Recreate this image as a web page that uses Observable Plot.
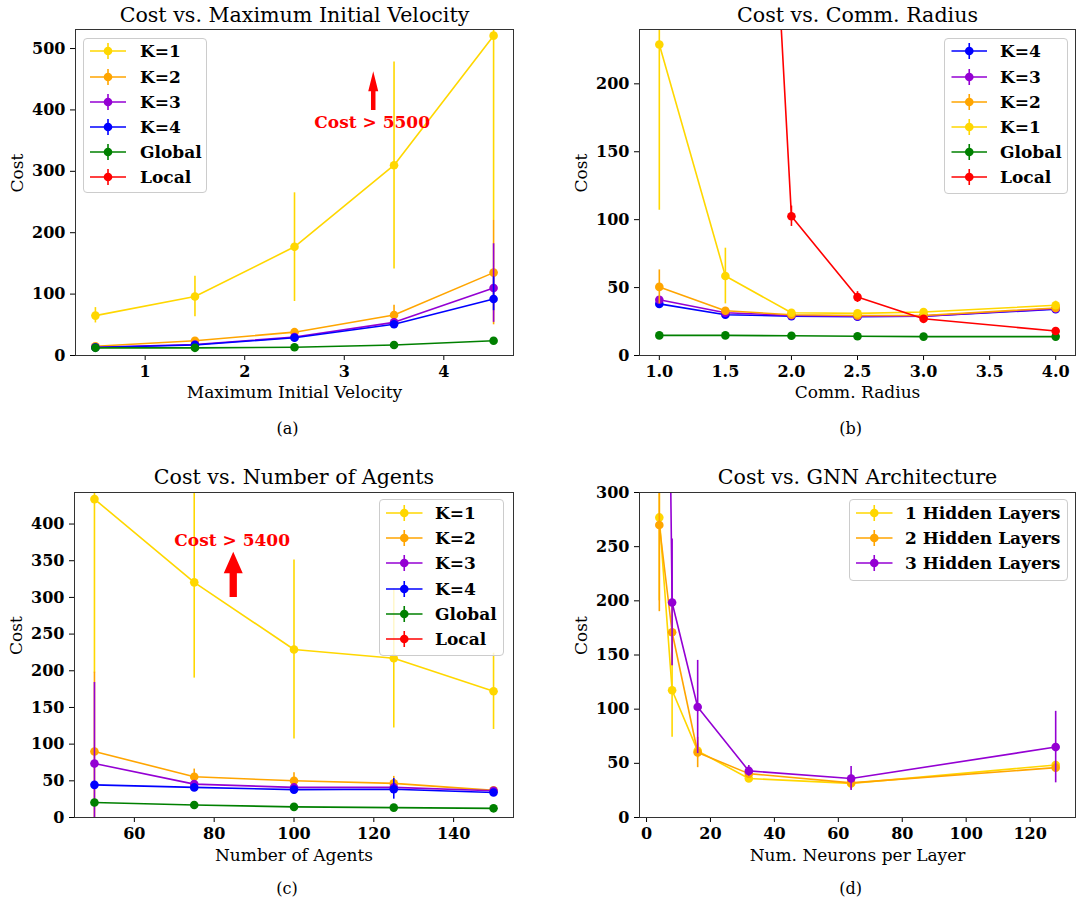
<!DOCTYPE html>
<html>
<head>
<meta charset="utf-8">
<script src="https://cdn.jsdelivr.net/npm/d3@7"></script>
<script src="https://cdn.jsdelivr.net/npm/@observablehq/plot@0.6"></script>
<style>
  body { margin: 0; background: #fff; }
  #root { position: relative; width: 1078px; height: 903px; overflow: hidden; font-family: "DejaVu Serif", serif; }
  .panel { position: absolute; }
  .legend { position: absolute; background: rgba(255,255,255,0.8); border: 1px solid #cccccc; border-radius: 4px; box-sizing: border-box; }
  .row { position: absolute; left: 0; height: 24px; width: 100%; }
  .row svg { position: absolute; left: 0; top: 0; }
  .row span { position: absolute; top: 0; line-height: 24px; font-weight: bold; font-size: 17px; color: #000; white-space: nowrap; }
</style>
</head>
<body>
<div id="root"></div>
<script>
// ---------- Panel (a): Cost vs. Maximum Initial Velocity ----------
const velX = [0.5, 1.5, 2.5, 3.5, 4.5];
const velK1 = [65, 96, 177, 310, 521];
const velK1Lo = [53, 63, 88, 141, 220];
const velK1Hi = [78, 129, 265, 478, 830];
const velK2 = [15, 24, 38, 66, 135];
const velK2Lo = [13, 21, 34, 50, 50];
const velK2Hi = [17, 27, 42, 82, 220];
const velK3 = [13.5, 18, 30, 54, 110];
const velK3Lo = [12, 16, 27, 48, 54];
const velK3Hi = [15, 20, 33, 60, 182];
const velK4 = [13, 17, 29, 51, 92];
const velK4Lo = [12, 15.5, 27, 46, 73];
const velK4Hi = [14, 18.5, 31, 56, 128];
const velGlobal = [12.5, 12.5, 13.5, 17, 24];
const velGlobalLo = [11.5, 11.5, 12.5, 16, 23];
const velGlobalHi = [13.5, 13.5, 14.5, 18, 25];
const velTicksX = [1, 2, 3, 4];
const velTicksY = [0, 100, 200, 300, 400, 500];

// ---------- Panel (b): Cost vs. Comm. Radius ----------
const radX = [1.0, 1.5, 2.0, 2.5, 3.0, 4.0];
const radK4 = [38, 30, 29, 28.5, 29, 34];
const radK4Lo = [36.5, 28.5, 27.5, 27, 27.5, 32.5];
const radK4Hi = [39.5, 31.5, 30.5, 30, 30.5, 35.5];
const radK3 = [41, 31.5, 29.5, 29, 29, 34.5];
const radK3Lo = [39.5, 30, 28, 27.5, 27.5, 33];
const radK3Hi = [42.5, 33, 31, 30.5, 30.5, 36];
const radK2 = [50.5, 33, 30, 29.5, 29.5, 35];
const radK2Lo = [38, 31, 28.5, 28, 28, 33];
const radK2Hi = [63, 35, 31.5, 31, 31, 37];
const radK1 = [229, 58.5, 31.5, 31, 32, 37];
const radK1Lo = [107, 38, 30, 29.5, 30, 34];
const radK1Hi = [351, 79, 33, 32.5, 34, 40];
const radGlobal = [14.8, 14.8, 14.5, 14.2, 13.9, 13.9];
const radGlobalLo = [14.3, 14.3, 14, 13.7, 13.4, 13.4];
const radGlobalHi = [15.3, 15.3, 15, 14.7, 14.4, 14.4];
const radLocal = [3000, 1000, 102.5, 43, 27, 18];
const radLocalLo = [2500, 900, 95, 39, 25, 16.5];
const radLocalHi = [3500, 1100, 110, 47, 29, 19.5];
const radTicksX = [1.0, 1.5, 2.0, 2.5, 3.0, 3.5, 4.0];
const radTicksY = [0, 50, 100, 150, 200];

// ---------- Panel (c): Cost vs. Number of Agents ----------
const agX = [50, 75, 100, 125, 150];
const agK1 = [434, 320.5, 229, 217, 172];
const agK1Lo = [197, 190, 107, 122, 120];
const agK1Hi = [671, 451, 351, 312, 224];
const agK2 = [90, 55.5, 50, 46.5, 37];
const agK2Lo = [-18, 45, 39, 37, 34];
const agK2Hi = [198, 66, 61, 56, 40];
const agK3 = [73.5, 45.5, 41, 41, 36.5];
const agK3Lo = [-37, 42, 38, 38, 34];
const agK3Hi = [184, 49, 44, 44, 39];
const agK4 = [44.5, 41, 38, 38.5, 34];
const agK4Lo = [41, 39, 36, 25, 32];
const agK4Hi = [48, 43, 40, 53, 36];
const agGlobal = [20.5, 17, 14.5, 13.5, 12.5];
const agGlobalLo = [19.5, 16, 13.5, 12.5, 11.5];
const agGlobalHi = [21.5, 18, 15.5, 14.5, 13.5];
const agTicksX = [60, 80, 100, 120, 140];
const agTicksY = [0, 50, 100, 150, 200, 250, 300, 350, 400];

// ---------- Panel (d): Cost vs. GNN Architecture ----------
const nnX = [4, 8, 16, 32, 64, 128];
const nnH1 = [277, 117.5, 61.5, 36, 31.5, 48.5];
const nnH1Lo = [200, 74, 55, 33, 29, 45];
const nnH1Hi = [354, 160, 68, 39, 34, 52];
const nnH2 = [270, 171, 60, 40.5, 32, 46];
const nnH2Lo = [190, 140, 46, 38, 26, 42];
const nnH2Hi = [350, 202, 74, 43, 38, 50];
const nnH3 = [1200, 198.5, 102, 43, 36, 65];
const nnH3Lo = [1100, 140, 59, 38, 25, 32];
const nnH3Hi = [1300, 257, 145, 48, 47, 98];
const nnTicksX = [0, 20, 40, 60, 80, 100, 120];
const nnTicksY = [0, 50, 100, 150, 200, 250, 300];

const C = {K1: "#FFD700", K2: "#FFA500", K3: "#9400D3", K4: "#0000FF", Global: "#008000", Local: "#FF0000"};
const FONT = "DejaVu Serif";

function rows(xs, ys, lo, hi) {
  return ys.map((y, i) => ({x: xs[i], y, lo: lo[i], hi: hi[i]}));
}

function fatArrow(ax, y0, y1, shaftW, headW, headL) {
  return (index, scales) => {
    const X = scales.x(ax), Y0 = scales.y(y0), Y1 = scales.y(y1);
    const hb = Y1 + headL;
    const p = document.createElementNS("http://www.w3.org/2000/svg", "path");
    p.setAttribute("d", `M${X - shaftW / 2},${Y0}L${X - shaftW / 2},${hb}L${X - headW / 2},${hb}L${X},${Y1}L${X + headW / 2},${hb}L${X + shaftW / 2},${hb}L${X + shaftW / 2},${Y0}Z`);
    p.setAttribute("fill", "#FF0000");
    return p;
  };
}

function panel(cfg) {
  const marks = [];
  for (const s of cfg.series) {
    const data = rows(cfg.xs, s.ys, s.lo, s.hi);
    marks.push(Plot.ruleX(data, {x: "x", y1: "lo", y2: "hi", stroke: s.color, strokeWidth: 1.6, clip: true}));
    marks.push(Plot.line(data, {x: "x", y: "y", stroke: s.color, strokeWidth: 1.6, clip: true}));
    marks.push(Plot.dot(data, {x: "x", y: "y", r: 4.3, fill: s.color, stroke: "none", clip: true}));
  }
  if (cfg.note) {
    marks.push(fatArrow(cfg.note.ax, cfg.note.y0, cfg.note.y1, cfg.note.shaftW, cfg.note.headW, cfg.note.headL));
    marks.push(Plot.text([cfg.note.text], {x: () => cfg.note.tx, y: () => cfg.note.ty, fill: "#FF0000", fontWeight: "bold", fontSize: 17, lineAnchor: "middle"}));
  }
  marks.push(Plot.frame({stroke: "#333", strokeWidth: 1}));
  marks.push(Plot.text([cfg.title], {frameAnchor: "top", dy: cfg.titleDy, fontSize: 20.6, fontWeight: "normal", lineAnchor: "middle"}));
  marks.push(Plot.text([cfg.xlabel], {frameAnchor: "bottom", dy: cfg.xlabelDy, fontSize: 17, fontWeight: "normal", lineAnchor: "middle"}));
  marks.push(Plot.text(["Cost"], {frameAnchor: "left", dx: -58, rotate: -90, fontSize: 17, fontWeight: "normal", lineAnchor: "middle"}));
  marks.push(Plot.text([cfg.caption], {frameAnchor: "bottom", dx: -7, dy: cfg.captionDy, fontSize: 16, fontWeight: "normal", lineAnchor: "middle"}));

  const svg = Plot.plot({
    width: cfg.width, height: cfg.height,
    marginLeft: cfg.m[0], marginRight: cfg.m[1], marginTop: cfg.m[2], marginBottom: cfg.m[3],
    style: {fontFamily: FONT, fontSize: "16px", fontWeight: "bold", color: "#000", background: "transparent", overflow: "visible"},
    x: {domain: cfg.xDomain, ticks: cfg.xTicks, tickFormat: cfg.xFormat, tickSize: 5, tickPadding: 5, label: null},
    y: {domain: cfg.yDomain, ticks: cfg.yTicks, tickFormat: d3.format("d"), tickSize: 5, tickPadding: 5, label: null},
    marks
  });
  const div = document.createElement("div");
  div.className = "panel";
  div.style.left = cfg.left + "px";
  div.style.top = cfg.top + "px";
  div.appendChild(svg);
  document.getElementById("root").appendChild(div);
}

function legend(box, entries) {
  const el = document.createElement("div");
  el.className = "legend";
  Object.assign(el.style, {left: box.left + "px", top: box.top + "px", width: box.w + "px", height: box.h + "px"});
  entries.forEach((e, i) => {
    const r = document.createElement("div");
    r.className = "row";
    r.style.top = (box.first + i * box.step - 12 - 1) + "px";
    const cx = (box.h0 + box.h1) / 2;
    r.innerHTML = `<svg width="${box.h1 + 4}" height="24">
      <line x1="${box.h0}" x2="${box.h1}" y1="12" y2="12" stroke="${e.color}" stroke-width="1.6"/>
      <line x1="${cx}" x2="${cx}" y1="4" y2="20" stroke="${e.color}" stroke-width="1.6"/>
      <circle cx="${cx}" cy="12" r="4.3" fill="${e.color}"/></svg><span style="left:${box.text}px">${e.label}</span>`;
    el.appendChild(r);
  });
  document.getElementById("root").appendChild(el);
}

// (a)
panel({
  left: 0, top: 0, width: 539, height: 451, m: [75, 26, 29, 96],
  xs: velX, xDomain: [0.3, 4.7], yDomain: [0, 531], xTicks: velTicksX, yTicks: velTicksY, xFormat: d3.format("d"),
  series: [
    {ys: velK1, lo: velK1Lo, hi: velK1Hi, color: C.K1},
    {ys: velK2, lo: velK2Lo, hi: velK2Hi, color: C.K2},
    {ys: velK3, lo: velK3Lo, hi: velK3Hi, color: C.K3},
    {ys: velK4, lo: velK4Lo, hi: velK4Hi, color: C.K4},
    {ys: velGlobal, lo: velGlobalLo, hi: velGlobalHi, color: C.Global}
  ],
  note: {text: "Cost > 5500", tx: 3.28, ty: 380, ax: 3.296, y0: 399, y1: 462, shaftW: 4.5, headW: 10, headL: 20},
  title: "Cost vs. Maximum Initial Velocity", titleDy: -14.5,
  xlabel: "Maximum Initial Velocity", xlabelDy: 37, caption: "(a)", captionDy: 73
});

// (b)
panel({
  left: 539, top: 0, width: 539, height: 451, m: [100, 3, 29, 96],
  xs: radX, xDomain: [0.85, 4.15], yDomain: [0, 240], xTicks: radTicksX, yTicks: radTicksY, xFormat: d3.format(".1f"),
  series: [
    {ys: radK4, lo: radK4Lo, hi: radK4Hi, color: C.K4},
    {ys: radK3, lo: radK3Lo, hi: radK3Hi, color: C.K3},
    {ys: radK2, lo: radK2Lo, hi: radK2Hi, color: C.K2},
    {ys: radK1, lo: radK1Lo, hi: radK1Hi, color: C.K1},
    {ys: radGlobal, lo: radGlobalLo, hi: radGlobalHi, color: C.Global},
    {ys: radLocal, lo: radLocalLo, hi: radLocalHi, color: C.Local}
  ],
  title: "Cost vs. Comm. Radius", titleDy: -14.5,
  xlabel: "Comm. Radius", xlabelDy: 37, caption: "(b)", captionDy: 73
});

// (c)
panel({
  left: 0, top: 451, width: 539, height: 452, m: [74, 26, 41, 86],
  xs: agX, xDomain: [45, 155], yDomain: [0, 443], xTicks: agTicksX, yTicks: agTicksY, xFormat: d3.format("d"),
  series: [
    {ys: agK1, lo: agK1Lo, hi: agK1Hi, color: C.K1},
    {ys: agK2, lo: agK2Lo, hi: agK2Hi, color: C.K2},
    {ys: agK3, lo: agK3Lo, hi: agK3Hi, color: C.K3},
    {ys: agK4, lo: agK4Lo, hi: agK4Hi, color: C.K4},
    {ys: agGlobal, lo: agGlobalLo, hi: agGlobalHi, color: C.Global}
  ],
  note: {text: "Cost > 5400", tx: 84.5, ty: 378, ax: 84.9, y0: 300, y1: 361.5, shaftW: 7.3, headW: 19, headL: 21.5},
  title: "Cost vs. Number of Agents", titleDy: -15,
  xlabel: "Number of Agents", xlabelDy: 38, caption: "(c)", captionDy: 71
});

// (d)
panel({
  left: 539, top: 451, width: 539, height: 452, m: [100, 3, 41, 86],
  xs: nnX, xDomain: [-2.2, 134.2], yDomain: [0, 300], xTicks: nnTicksX, yTicks: nnTicksY, xFormat: d3.format("d"),
  series: [
    {ys: nnH1, lo: nnH1Lo, hi: nnH1Hi, color: C.K1},
    {ys: nnH2, lo: nnH2Lo, hi: nnH2Hi, color: C.K2},
    {ys: nnH3, lo: nnH3Lo, hi: nnH3Hi, color: C.K3}
  ],
  title: "Cost vs. GNN Architecture", titleDy: -15,
  xlabel: "Num. Neurons per Layer", xlabelDy: 38, caption: "(d)", captionDy: 71
});

// Legends
const legA = [
  {label: "K=1", color: C.K1}, {label: "K=2", color: C.K2}, {label: "K=3", color: C.K3},
  {label: "K=4", color: C.K4}, {label: "Global", color: C.Global}, {label: "Local", color: C.Local}
];
const legB = [
  {label: "K=4", color: C.K4}, {label: "K=3", color: C.K3}, {label: "K=2", color: C.K2},
  {label: "K=1", color: C.K1}, {label: "Global", color: C.Global}, {label: "Local", color: C.Local}
];
const legD = [
  {label: "1 Hidden Layers", color: C.K1}, {label: "2 Hidden Layers", color: C.K2}, {label: "3 Hidden Layers", color: C.K3}
];
legend({left: 83, top: 38, w: 124, h: 155, first: 13.3, step: 25.2, h0: 6, h1: 42, text: 56}, legA);
legend({left: 944, top: 38, w: 124, h: 156, first: 13.3, step: 25.2, h0: 6.5, h1: 42, text: 55}, legB);
legend({left: 379, top: 499, w: 125, h: 157, first: 14, step: 25.2, h0: 6, h1: 42.5, text: 55}, legA);
legend({left: 849, top: 499, w: 219, h: 82, first: 14, step: 25.2, h0: 6, h1: 42.5, text: 55}, legD);
</script>
</body>
</html>
